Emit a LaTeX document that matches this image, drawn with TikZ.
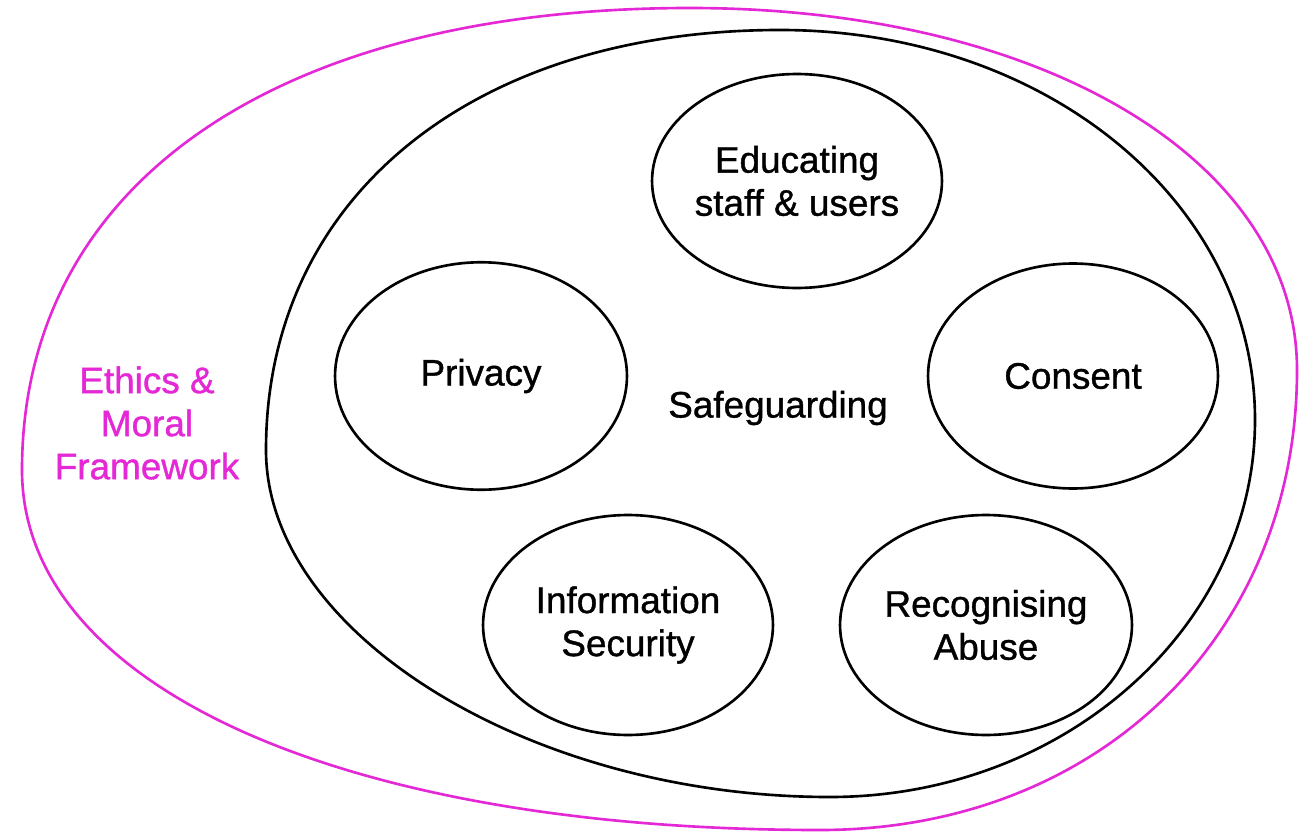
\documentclass[tikz,border=0pt]{standalone}
\usepackage{fontspec}
\setmainfont{Liberation Sans}
\newfontfamily\medfont{Liberation Sans}[FakeBold=1]
\usepackage{tikz}
\usetikzlibrary{shapes,positioning}
\usepackage{xcolor}
\definecolor{sgmagenta}{RGB}{228,40,214}
\newcommand{\labelfont}{\medfont\fontsize{21}{24.5}\selectfont}
\tikzstyle{topic} = [ellipse, draw=black, line width=1.5pt, inner sep=0pt, align=center, font=\labelfont]
\tikzstyle{boundary} = [line width=1.5pt]

\begin{document}
\begin{tikzpicture}[x=0.02cm, y=-0.02cm]
\useasboundingbox (0,0) rectangle (1302,835);

% Outer ethics boundary
\draw[boundary, sgmagenta] (690,8)
  .. controls (1042,8) and (1297,160) .. (1297,370)
  .. controls (1297,637) and (1097,830) .. (820,830)
  .. controls (341,830) and (22,686) .. (22,470)
  .. controls (22,184) and (276,8) .. cycle;

% Safeguarding boundary
\draw[boundary, black] (780,30)
  .. controls (1046,30) and (1255,202) .. (1255,420)
  .. controls (1255,627) and (1064,797) .. (830,797)
  .. controls (531,797) and (266,634) .. (266,450)
  .. controls (266,198) and (472,30) .. cycle;

% Labels
\node[font=\labelfont, text=sgmagenta, align=center] (ethics) at (147,423) {Ethics \&\\Moral\\Framework};
\node[font=\labelfont] (sg) at (778,408) {Safeguarding};

% Topic circles
\node[topic, minimum width=5.8cm, minimum height=4.28cm] (educating) at (797,181) {Educating\\staff \& users};
\node[topic, minimum width=5.84cm, minimum height=4.55cm] (privacy) at (481,376) {Privacy};
\node[topic, minimum width=5.8cm, minimum height=4.5cm] (consent) at (1073,376) {Consent};
\node[topic, minimum width=5.8cm, minimum height=4.4cm] (infosec) at (628,625) {Information\\Security};
\node[topic, minimum width=5.84cm, minimum height=4.4cm] (abuse) at (986,625) {Recognising\\Abuse};
\end{tikzpicture}
\end{document}
